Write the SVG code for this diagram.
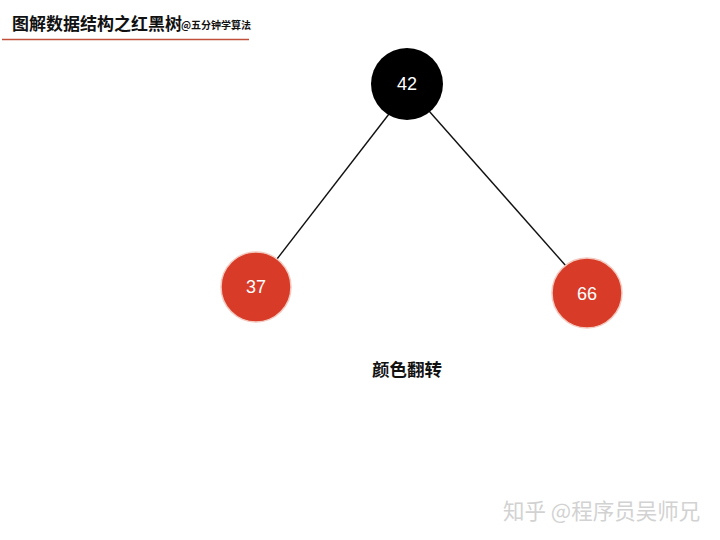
<svg xmlns="http://www.w3.org/2000/svg" width="720" height="540" viewBox="0 0 720 540">
<style>
.title{font-family:"Noto Sans CJK SC","Noto Sans",sans-serif;font-weight:bold;fill:#111}
.num{font-family:"Liberation Sans","Noto Sans",sans-serif;font-size:18px;fill:#fff;text-anchor:middle;dominant-baseline:central}
.red{fill:#d83b27;stroke:#f3c9bf;stroke-width:1.5}
.black{fill:#000}
.edge{stroke:#111;stroke-width:1.4;fill:none}
.wm{font-family:"Noto Sans CJK SC","Noto Sans",sans-serif;fill:#d2d2d2}
</style>
<rect width="720" height="540" fill="#fff"/>
<g id="header">
<text class="title" x="12" y="30" font-size="17">图解数据结构之红黑树</text>
<text class="title" x="181" y="29" font-size="10">@五分钟学算法</text>
<line x1="2" y1="39.5" x2="249" y2="39.5" stroke="#c0503a" stroke-width="1.5"/>
</g>
<g id="connectors">
<line class="edge" x1="389" y1="114" x2="277" y2="259"/>
<line class="edge" x1="429" y1="111" x2="566" y2="266"/>
</g>
<g id="node42">
<circle class="black" cx="407" cy="84" r="36"/>
<text class="num" x="407" y="84">42</text>
</g>
<g id="node37">
<circle class="red" cx="256" cy="287" r="35"/>
<text class="num" x="256" y="287">37</text>
</g>
<g id="node66">
<circle class="red" cx="587" cy="293" r="35"/>
<text class="num" x="587" y="294">66</text>
</g>
<g id="caption">
<text class="title" x="407" y="376" font-size="17.5" text-anchor="middle">颜色翻转</text>
</g>
<g id="watermark">
<text class="wm" x="503" y="519" font-size="21.5">知乎 @程序员吴师兄</text>
</g>
</svg>
